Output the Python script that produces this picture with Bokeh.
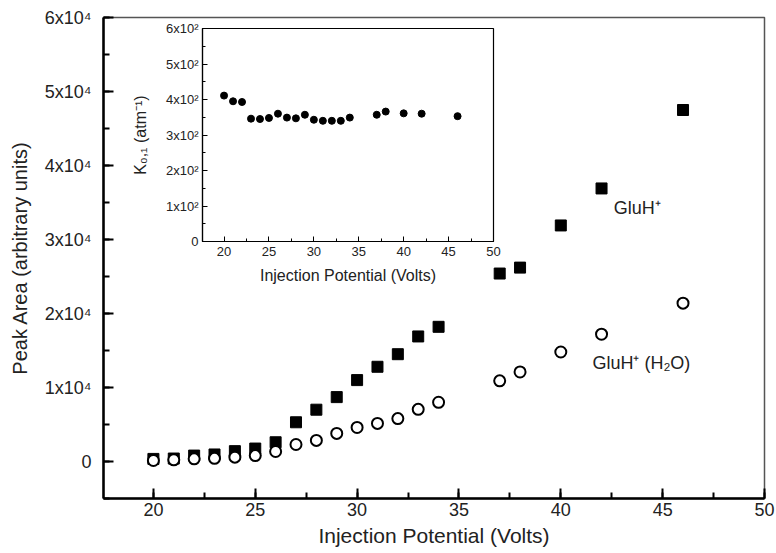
from bokeh.plotting import figure
from bokeh.models import SingleIntervalTicker, Range1d, Label
from bokeh.embed import file_html
from bokeh.resources import INLINE

FONT = "Liberation Sans"

voltage = [20, 21, 22, 23, 24, 25, 26, 27, 28, 29, 30, 31, 32, 33, 34, 37, 38, 40, 42, 46]
gluh = [350, 400, 800, 950, 1400, 1750, 2600, 5300, 7000, 8700, 11000, 12800, 14500,
        16900, 18200, 25400, 26200, 31900, 36900, 47500]
gluh_h2o = [135, 230, 360, 430, 590, 800, 1350, 2300, 2850, 3800, 4600, 5150, 5800,
            7050, 8000, 10900, 12100, 14800, 17200, 21400]
k01 = [411, 395, 393, 346, 345, 348, 360, 349, 347, 357, 343, 340, 340, 340, 349,
       357, 366, 361, 360, 353]

main_y_ticks = [0, 10000, 20000, 30000, 40000, 50000, 60000]
main_y_labels = ["0", "1x10⁴", "2x10⁴", "3x10⁴", "4x10⁴", "5x10⁴", "6x10⁴"]
inset_y_ticks = [0, 100, 200, 300, 400, 500, 600]
inset_y_labels = ["0", "1x10²", "2x10²", "3x10²", "4x10²", "5x10²", "6x10²"]

# ---------------- main plot ----------------
p = figure(width=776, height=553, x_range=Range1d(17.55, 50), y_range=Range1d(-5000, 60000),
           output_backend="svg", toolbar_location=None,
           min_border_left=103, min_border_right=12, min_border_top=17, min_border_bottom=55)
p.xgrid.visible = False
p.ygrid.visible = False
p.outline_line_color = "#555555"
p.outline_line_width = 1.5

p.xaxis.ticker = SingleIntervalTicker(interval=5, num_minor_ticks=2)
p.yaxis.ticker = SingleIntervalTicker(interval=10000, num_minor_ticks=2)
p.yaxis.major_label_overrides = dict(zip(main_y_ticks, main_y_labels))

for ax in (p.xaxis[0], p.yaxis[0]):
    ax.axis_line_width = 2.5
    ax.axis_line_color = "black"
    ax.major_tick_in = 10
    ax.major_tick_out = 0
    ax.minor_tick_in = 6
    ax.minor_tick_out = 0
    ax.major_tick_line_width = 2
    ax.minor_tick_line_width = 2
    ax.major_label_text_font = FONT
    ax.major_label_text_font_size = "18px"
    ax.major_label_text_color = "#222222"
    ax.axis_label_text_font = FONT
    ax.axis_label_text_font_size = "20px"
    ax.axis_label_text_font_style = "normal"
    ax.axis_label_text_color = "#222222"

p.xaxis.axis_label = "Injection Potential (Volts)"
p.xaxis.axis_label_text_font_size = "21px"
p.yaxis.axis_label = "Peak Area (arbitrary units)"
p.xaxis.major_label_standoff = 4
p.xaxis.axis_label_standoff = 5
p.yaxis.major_label_standoff = 12
p.yaxis.axis_label_standoff = 11

p.scatter(voltage, gluh, marker="square", size=11, fill_color="black", line_color="black")
p.scatter(voltage, gluh_h2o, marker="circle", size=11, fill_color="white",
          line_color="black", line_width=2)

p.add_layout(Label(x=42.6, y=34300, text="GluH⁺", text_font=FONT, text_font_size="18px",
                   text_baseline="middle", text_color="#222222"))
p.add_layout(Label(x=41.55, y=13300, text="GluH⁺ (H₂O)", text_font=FONT, text_font_size="18px",
                   text_baseline="middle", text_color="#222222"))

# ---------------- inset ----------------
q = figure(frame_width=291, frame_height=213, x_range=Range1d(17.6, 50), y_range=Range1d(0, 600),
           output_backend="svg", toolbar_location=None,
           min_border_left=120, min_border_right=8, min_border_top=20, min_border_bottom=56,
           styles={"position": "absolute", "left": "82px", "top": "8px"})
q.xgrid.visible = False
q.ygrid.visible = False
q.outline_line_color = "black"
q.outline_line_width = 1.2
q.border_fill_alpha = 0
q.xaxis.ticker = SingleIntervalTicker(interval=5, num_minor_ticks=2)
q.yaxis.ticker = SingleIntervalTicker(interval=100, num_minor_ticks=2)
q.yaxis.major_label_overrides = dict(zip(inset_y_ticks, inset_y_labels))
for ax in (q.xaxis[0], q.yaxis[0]):
    ax.axis_line_width = 1.2
    ax.major_tick_in = 5
    ax.major_tick_out = 0
    ax.minor_tick_in = 3
    ax.minor_tick_out = 0
    ax.major_label_text_font = FONT
    ax.major_label_text_font_size = "13px"
    ax.major_label_text_color = "#222222"
    ax.axis_label_text_font = FONT
    ax.axis_label_text_font_size = "16px"
    ax.axis_label_text_font_style = "normal"
    ax.axis_label_text_color = "#222222"
q.xaxis.axis_label = "Injection Potential (Volts)"
q.yaxis.axis_label = "K₀,₁ (atm⁻¹)"
q.xaxis.major_label_standoff = 5
q.xaxis.axis_label_standoff = 8
q.yaxis.major_label_standoff = 4
q.yaxis.axis_label_standoff = 14

q.scatter(voltage, k01, marker="circle", size=7, fill_color="black", line_color="black")

open("out.html", "w").write(file_html([p, q], INLINE))
